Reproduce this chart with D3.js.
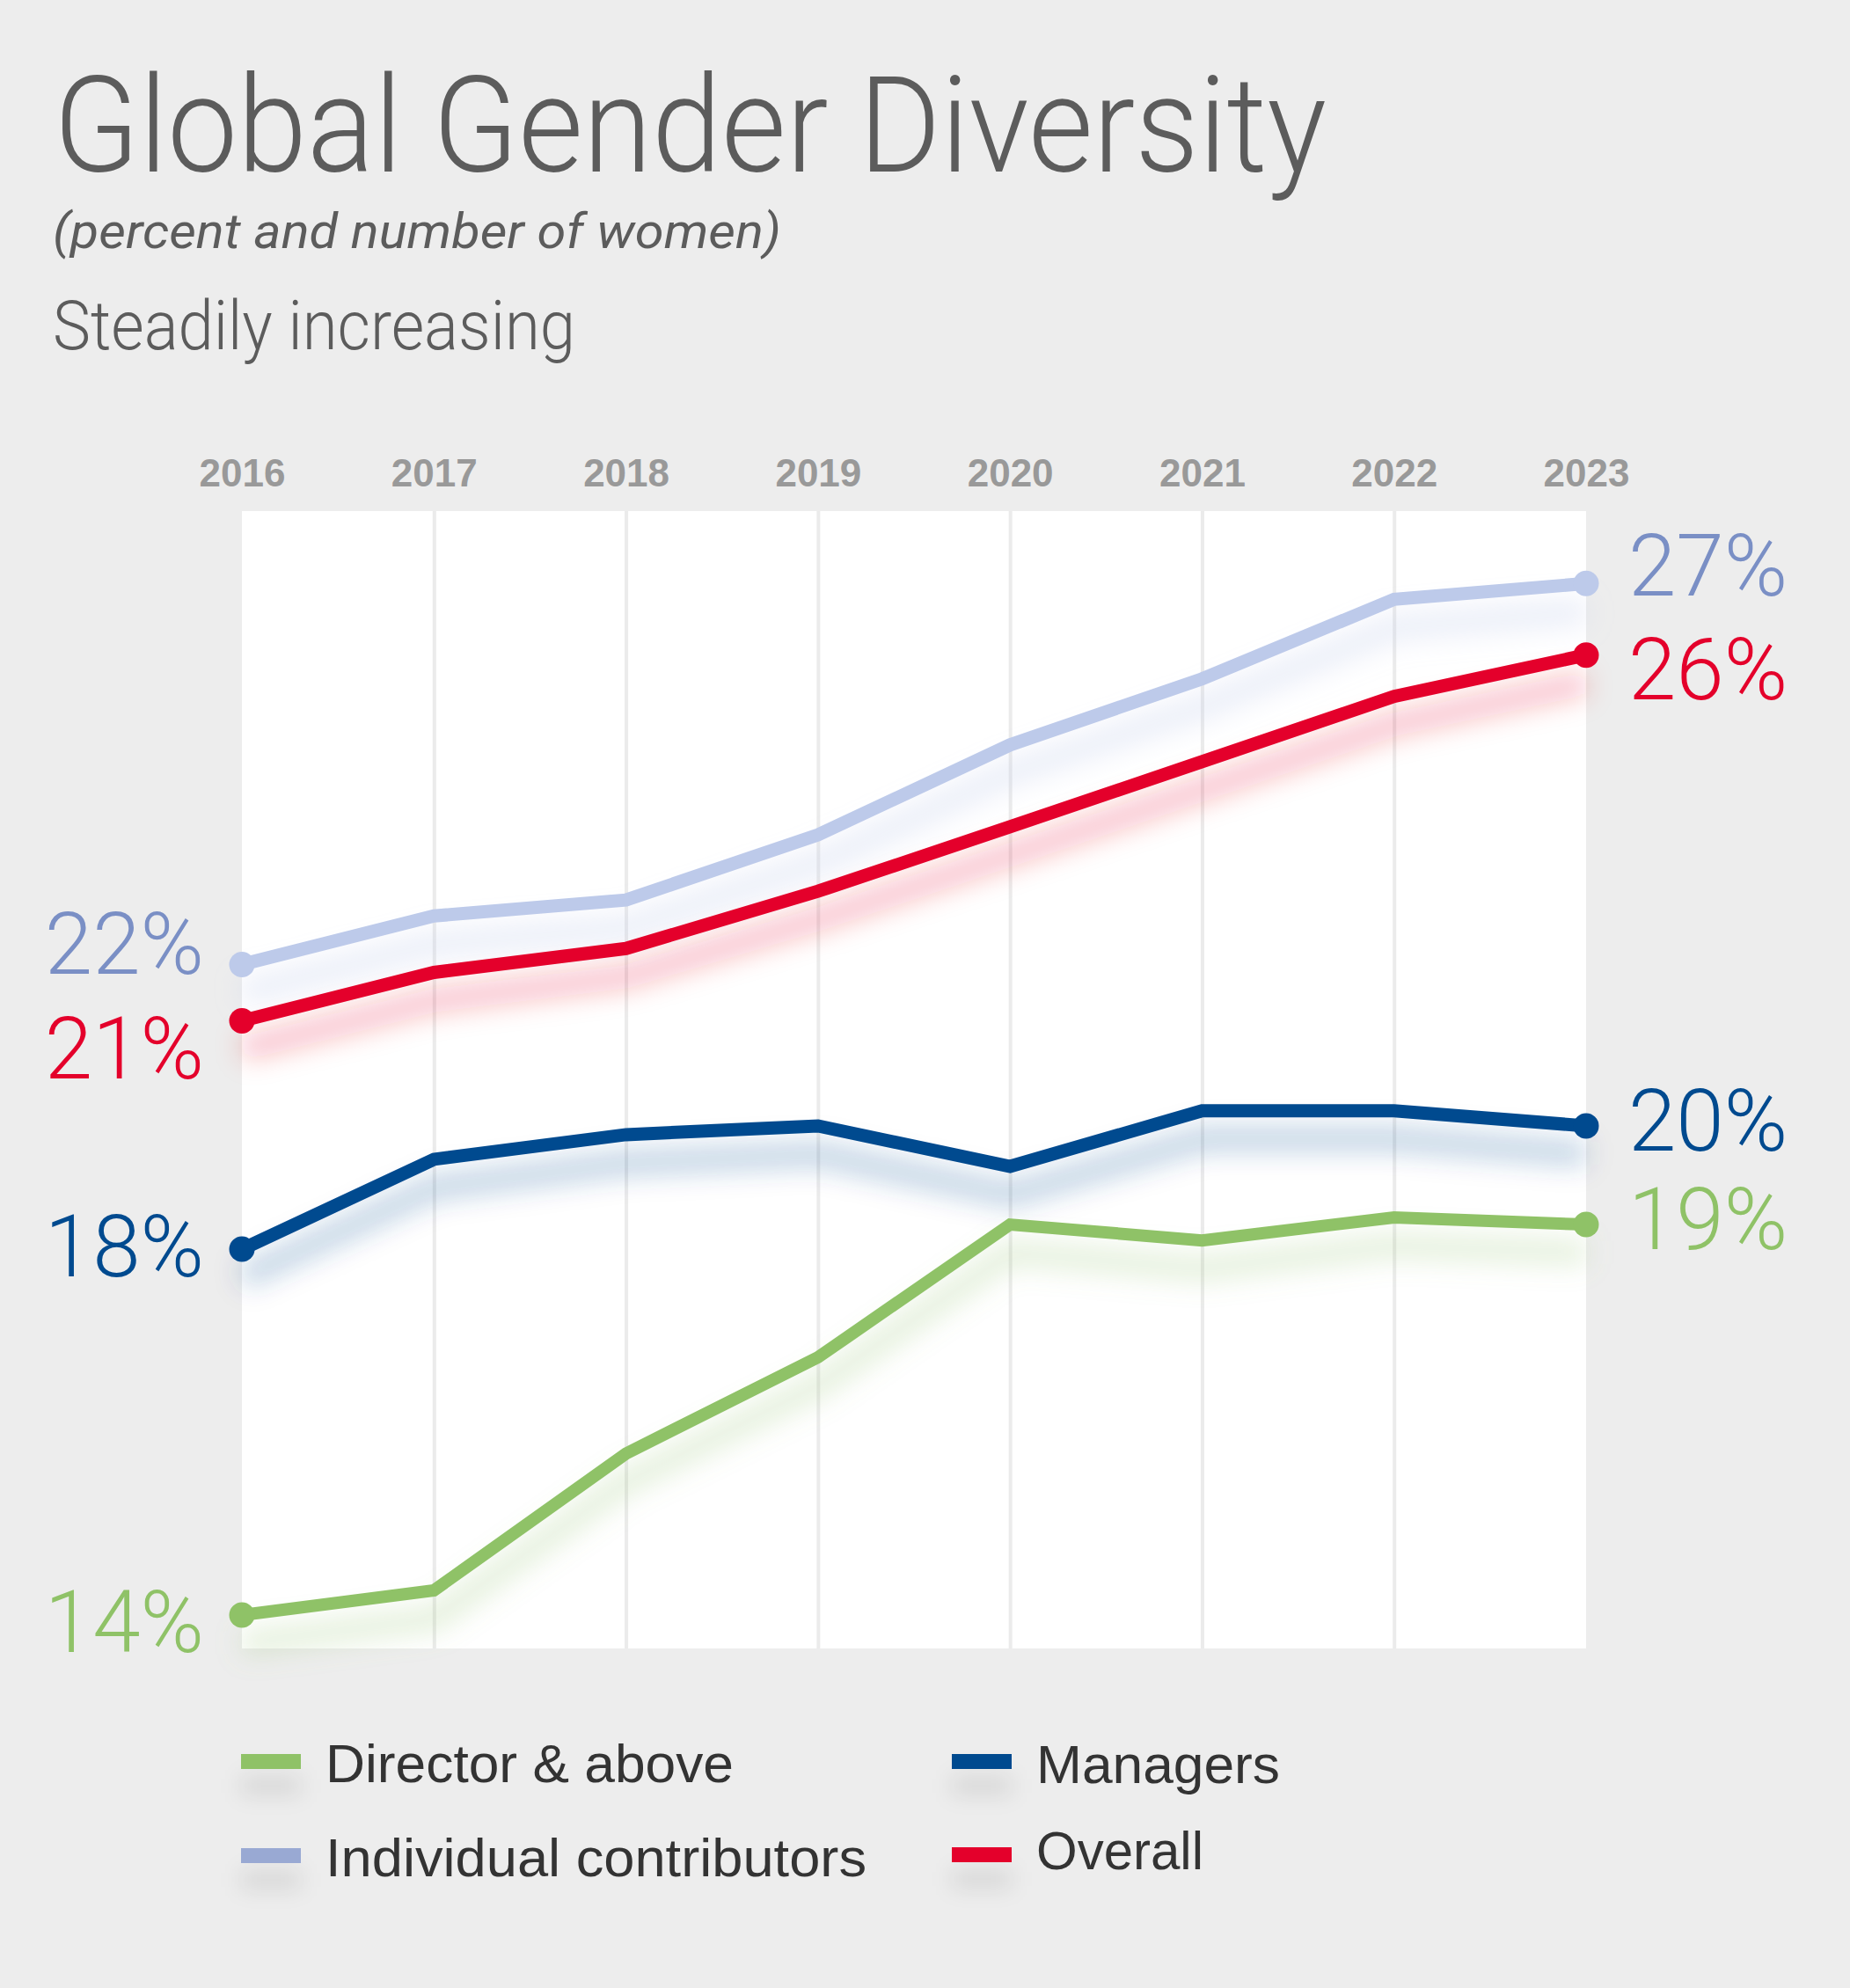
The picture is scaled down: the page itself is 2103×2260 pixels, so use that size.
<!DOCTYPE html>
<html>
<head>
<meta charset="utf-8">
<script src="https://cdn.jsdelivr.net/npm/d3@7"></script>
<style>
  html, body { margin: 0; padding: 0; background: #ededed; }
  svg { display: block; }
</style>
</head>
<body>
<svg id="chart" width="2103" height="2260"></svg>
<script>
// ---------- DATA ----------
const years = [2016, 2017, 2018, 2019, 2020, 2021, 2022, 2023];
const yearLabels = ["2016", "2017", "2018", "2019", "2020", "2021", "2022", "2023"];
const seriesNames = ["Director & above", "Managers", "Individual contributors", "Overall"];
const directorValues   = [14.02, 14.33, 16.05, 17.26, 18.93, 18.73, 19.02, 18.93];
const managersValues   = [18.62, 19.75, 20.06, 20.17, 19.66, 20.36, 20.36, 20.17];
const individualValues = [22.20, 22.81, 23.01, 23.83, 24.96, 25.79, 26.79, 26.99];
const overallValues    = [21.49, 22.10, 22.40, 23.12, 23.93, 24.75, 25.57, 26.09];
const startLabels = ["14%", "18%", "22%", "21%"];
const endLabels   = ["19%", "20%", "27%", "26%"];

// ---------- STYLE ----------
const lineColors  = ["#8fc267", "#004a8f", "#bdcaea", "#e4002b"];
const labelColors = ["#8fc267", "#004a8f", "#7a8fc5", "#e4002b"];
const swatchColors = ["#8fc267", "#004a8f", "#99a9d3", "#e4002b"];
const startDy = [42, 31, 11, 65];
const endDy   = [28, 28, 14, 50];

const svg = d3.select("#chart");
const W = 2103, H = 2260;
svg.append("rect").attr("width", W).attr("height", H).attr("fill", "#ededed");

const defs = svg.append("defs");
const glow = defs.append("filter").attr("id", "glow")
  .attr("x", "-20%").attr("y", "-50%").attr("width", "140%").attr("height", "200%");
glow.append("feGaussianBlur").attr("stdDeviation", 15);
const sh = defs.append("filter").attr("id", "sh")
  .attr("x", "-100%").attr("y", "-300%").attr("width", "300%").attr("height", "700%");
sh.append("feGaussianBlur").attr("stdDeviation", 12);

function fit(sel, w) {
  sel.attr("textLength", w).attr("lengthAdjust", "spacingAndGlyphs");
}

// ---------- TITLES ----------
const lightFont = "Roboto, 'Liberation Sans', Arial, sans-serif";
svg.append("text").attr("x", 61).attr("y", 195)
  .attr("font-family", lightFont).attr("font-weight", 300)
  .attr("font-size", 153).attr("fill", "#5c5c5c")
  .text("Global Gender Diversity").call(fit, 1447);
svg.append("text").attr("x", 60).attr("y", 282)
  .attr("font-family", lightFont).attr("font-weight", 400).attr("font-style", "italic")
  .attr("font-size", 56).attr("fill", "#5c5c5c")
  .text("(percent and number of women)").call(fit, 828);
svg.append("text").attr("x", 60).attr("y", 397)
  .attr("font-family", lightFont).attr("font-weight", 300)
  .attr("font-size", 77).attr("fill", "#5c5c5c")
  .text("Steadily increasing").call(fit, 594);

// ---------- SCALES ----------
const x = d3.scalePoint().domain(years).range([275, 1803]);
const y = d3.scaleLinear().domain([13.6, 27.9]).range([1874, 581]);

// plot background
const [y0, y1] = y.range();
svg.append("rect").attr("x", 275).attr("y", y1)
  .attr("width", 1803 - 275).attr("height", y0 - y1).attr("fill", "#ffffff");

// vertical grid via axis
const gridAxis = d3.axisBottom(x).tickSize(-(y0 - y1)).tickFormat("");
const grid = svg.append("g").attr("transform", `translate(0,${y0})`).call(gridAxis);
grid.select(".domain").remove();
grid.selectAll(".tick line").attr("stroke", "#ebebeb").attr("stroke-width", 4)
  .filter(d => d === years[0] || d === years[years.length - 1]).remove();

// year labels via top axis
const topAxis = d3.axisTop(x).tickSize(0).tickFormat((d, i) => yearLabels[i]);
const ta = svg.append("g").attr("transform", `translate(0,553)`).call(topAxis);
ta.select(".domain").remove();
ta.selectAll("text").attr("font-family", "'Liberation Sans', Arial, sans-serif")
  .attr("font-weight", "bold").attr("font-size", 44).attr("fill", "#999999")
  .attr("dy", 0).attr("y", 0);

// ---------- LINES ----------
const allSeries = [directorValues, managersValues, individualValues, overallValues];
const line = d3.line().x((d, i) => x(years[i])).y(d => y(d));
const drawOrder = [2, 3, 1, 0];

// glows
drawOrder.forEach(k => {
  svg.append("path").datum(allSeries[k])
    .attr("d", line).attr("fill", "none")
    .attr("stroke", lineColors[k]).attr("stroke-width", 28)
    .attr("stroke-opacity", k === 2 ? 0.32 : 0.24)
    .attr("transform", "translate(0,32)")
    .attr("filter", "url(#glow)");
});

drawOrder.forEach(k => {
  const vals = allSeries[k];
  svg.append("path").datum(vals)
    .attr("d", line).attr("fill", "none")
    .attr("stroke", lineColors[k]).attr("stroke-width", k === 0 ? 14 : 15)
    .attr("stroke-linejoin", "miter");
  const ends = [0, vals.length - 1];
  svg.selectAll(null).data(ends).enter().append("circle")
    .attr("cx", i => x(years[i])).attr("cy", i => y(vals[i]))
    .attr("r", 14.5).attr("fill", lineColors[k]);
  // labels
  svg.append("text")
    .attr("x", x(years[0]) - 43).attr("y", y(vals[0]) + startDy[k])
    .attr("text-anchor", "end")
    .attr("font-family", lightFont).attr("font-weight", 300)
    .attr("font-size", 98).attr("fill", labelColors[k])
    .text(startLabels[k]);
  svg.append("text")
    .attr("x", x(years[vals.length - 1]) + 48).attr("y", y(vals[vals.length - 1]) + endDy[k])
    .attr("font-family", lightFont).attr("font-weight", 300)
    .attr("font-size", 98).attr("fill", labelColors[k])
    .text(endLabels[k]);
});

// ---------- LEGEND ----------
const legendPos = [
  {sx: 274, sy: 1994, ty: 2026, w: 464},
  {sx: 1082, sy: 1994, ty: 2027, w: 277},
  {sx: 274, sy: 2101, ty: 2133, w: 615},
  {sx: 1082, sy: 2100, ty: 2125, w: 190}
];
seriesNames.forEach((name, k) => {
  const p = legendPos[k];
  svg.append("rect").attr("x", p.sx).attr("y", p.sy + 26).attr("width", 68).attr("height", 20)
    .attr("fill", "#000").attr("fill-opacity", 0.1).attr("filter", "url(#sh)");
  svg.append("rect").attr("x", p.sx).attr("y", p.sy).attr("width", 68).attr("height", 17)
    .attr("fill", swatchColors[k]);
  svg.append("text").attr("x", p.sx + 96).attr("y", p.ty)
    .attr("font-family", "'Liberation Sans', Arial, sans-serif")
    .attr("font-size", 62).attr("fill", "#333333")
    .text(name).call(fit, p.w);
});
</script>
</body>
</html>
